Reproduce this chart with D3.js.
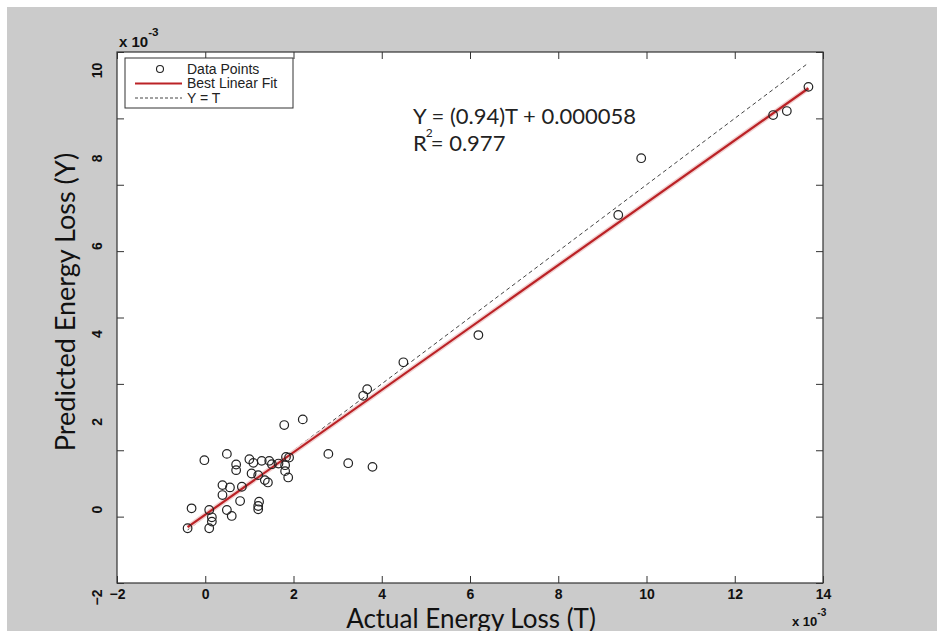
<!DOCTYPE html>
<html>
<head>
<meta charset="utf-8">
<script src="https://cdn.jsdelivr.net/npm/d3@7"></script>
<style>
  body { margin: 0; background: #fff; }
  svg { display: block; }
</style>
</head>
<body>
<div id="chart"></div>
<script>
// values are in units of 1e-3 (as on the axes)
const actualT = [
  13.67, 12.87, 13.18, 9.88, 9.36, 6.19, 4.49, 3.67, 3.58, 2.21,
  1.79, 2.79, 3.24, 3.79, -0.02, 0.49, 0.70, 0.70, 1.00, 1.09,
  1.28, 1.45, 1.51, 1.66, 1.83, 1.90, 1.81, 1.81, 1.88, 1.05,
  1.20, 1.35, 1.42, 0.39, 0.56, 0.83, 0.39, 0.79, 1.22, 1.20,
  1.20, -0.31, 0.09, 0.15, 0.49, 0.60, 0.15, 0.09, -0.40
];
const predictedY = [
  12.95, 12.10, 12.22, 10.80, 9.09, 5.47, 4.65, 3.84, 3.64, 2.93,
  2.76, 1.89, 1.61, 1.50, 1.70, 1.89, 1.57, 1.40, 1.73, 1.62,
  1.68, 1.68, 1.58, 1.60, 1.80, 1.78, 1.55, 1.37, 1.18, 1.30,
  1.25, 1.10, 1.03, 0.95, 0.88, 0.90, 0.65, 0.47, 0.45, 0.32,
  0.22, 0.25, 0.20, -0.02, 0.20, 0.02, -0.15, -0.35, -0.35
];

const fitSlope = 0.94;
const fitIntercept = 0.058;

const xTicks = [-2, 0, 2, 4, 6, 8, 10, 12, 14];
const yTickMarks = [-2, 0, 2, 4, 6, 8, 10, 12, 14];
const yTickLabels = [-2, 0, 2, 4, 6, 8, 10];

const legendItems = ["Data Points", "Best Linear Fit", "Y = T"];
const equationLines = ["Y = (0.94)T + 0.000058", "R", "2", "= 0.977"];

const width = 937, height = 631;
const plot = { left: 117, right: 823, top: 52, bottom: 583 };

const svg = d3.select("#chart").append("svg")
  .attr("width", width)
  .attr("height", height);

// figure background
svg.append("rect").attr("width", width).attr("height", height).attr("fill", "#fff");
svg.append("rect")
  .attr("x", 7).attr("y", 7)
  .attr("width", width - 7).attr("height", height - 7)
  .attr("fill", "#cbcbcb");

svg.append("rect")
  .attr("x", plot.left).attr("y", plot.top)
  .attr("width", plot.right - plot.left)
  .attr("height", plot.bottom - plot.top)
  .attr("fill", "#fff");

const x = d3.scaleLinear().domain([-2, 14]).range([plot.left, plot.right]);
const y = d3.scaleLinear().domain([-2, 14]).range([plot.bottom, plot.top]);
// the printed y labels do not follow the tick marks in the original
const yLabel = d3.scaleLinear().domain([-2, 10]).range([597, 70]);

const tickFont = "'Liberation Sans', Arial, sans-serif";

// bottom axis
const xAxisG = svg.append("g")
  .attr("transform", `translate(0,${plot.bottom})`)
  .call(d3.axisBottom(x).tickValues(xTicks).tickSizeInner(-7).tickSizeOuter(0).tickPadding(6)
    .tickFormat(d3.format("d")));
xAxisG.select(".domain").remove();
xAxisG.selectAll("text")
  .attr("font-family", tickFont).attr("font-weight", "bold")
  .attr("font-size", 14).attr("fill", "#111");

// top axis ticks
const topG = svg.append("g")
  .attr("transform", `translate(0,${plot.top})`)
  .call(d3.axisTop(x).tickValues(xTicks).tickSizeInner(-7).tickSizeOuter(0).tickFormat(""));
topG.select(".domain").remove();

// left tick marks
const leftG = svg.append("g")
  .attr("transform", `translate(${plot.left},0)`)
  .call(d3.axisLeft(y).tickValues(yTickMarks).tickSizeInner(-7).tickSizeOuter(0).tickFormat(""));
leftG.select(".domain").remove();

// right tick marks
const rightG = svg.append("g")
  .attr("transform", `translate(${plot.right},0)`)
  .call(d3.axisRight(y).tickValues(yTickMarks).tickSizeInner(-7).tickSizeOuter(0).tickFormat(""));
rightG.select(".domain").remove();

svg.selectAll(".tick line").attr("stroke", "#333").attr("stroke-width", 1);

// y labels, rotated
const yLabG = svg.append("g")
  .attr("transform", `translate(${plot.left},0)`)
  .call(d3.axisLeft(yLabel).tickValues(yTickLabels).tickSize(0).tickFormat(d3.format("d")));
yLabG.select(".domain").remove();
yLabG.selectAll(".tick line").remove();
yLabG.selectAll("text")
  .attr("x", 0).attr("dy", "0.36em")
  .attr("text-anchor", "middle")
  .attr("transform", "translate(-20,0) rotate(-90)")
  .attr("font-family", tickFont).attr("font-weight", "bold")
  .attr("font-size", 14).attr("fill", "#111");

// plot frame
svg.append("rect")
  .attr("x", plot.left).attr("y", plot.top)
  .attr("width", plot.right - plot.left)
  .attr("height", plot.bottom - plot.top)
  .attr("fill", "none").attr("stroke", "#333").attr("stroke-width", 1.2);

// exponent labels
function exponent(g, tx, ty, size) {
  const t = g.append("text")
    .attr("x", tx).attr("y", ty)
    .attr("font-family", tickFont).attr("font-weight", "bold")
    .attr("font-size", size).attr("fill", "#111");
  t.append("tspan").text("x 10");
  t.append("tspan").attr("dy", -size * 0.75).attr("font-size", size * 0.78).text("-3");
}
exponent(svg, 119, 47, 15);
exponent(svg, 792, 626, 13);

// lines
const tMin = d3.min(actualT), tMax = d3.max(actualT);

svg.append("line")
  .attr("x1", x(tMin)).attr("y1", y(tMin))
  .attr("x2", x(tMax)).attr("y2", y(tMax))
  .attr("stroke", "#444").attr("stroke-width", 1)
  .attr("stroke-dasharray", "4,3");

svg.append("line")
  .attr("x1", x(tMin)).attr("y1", y(fitSlope * tMin + fitIntercept))
  .attr("x2", x(tMax)).attr("y2", y(fitSlope * tMax + fitIntercept))
  .attr("stroke", "#f2d2d2").attr("stroke-width", 5);
svg.append("line")
  .attr("x1", x(tMin)).attr("y1", y(fitSlope * tMin + fitIntercept))
  .attr("x2", x(tMax)).attr("y2", y(fitSlope * tMax + fitIntercept))
  .attr("stroke", "#bb2226").attr("stroke-width", 2.2);

// points
svg.append("g").selectAll("circle")
  .data(actualT.map((t, i) => ({ t, y: predictedY[i] })))
  .join("circle")
  .attr("cx", d => x(d.t))
  .attr("cy", d => y(d.y))
  .attr("r", 4.3)
  .attr("fill", "none")
  .attr("stroke", "#222")
  .attr("stroke-width", 1.2);

// equation
const eqFont = "Lato, 'Open Sans', sans-serif";
svg.append("text")
  .attr("x", 413).attr("y", 124)
  .attr("font-family", eqFont).attr("font-size", 22).attr("fill", "#222")
  .text(equationLines[0]);
const r2 = svg.append("text")
  .attr("x", 413).attr("y", 151)
  .attr("font-family", eqFont).attr("font-size", 22).attr("fill", "#222");
r2.append("tspan").text(equationLines[1]);
r2.append("tspan").attr("dy", -14).attr("dx", -1).attr("font-size", 12).text(equationLines[2]);
r2.append("tspan").attr("dy", 14).attr("dx", -2).text(equationLines[3]);

// legend
const leg = svg.append("g");
leg.append("rect")
  .attr("x", 125).attr("y", 58).attr("width", 168).attr("height", 50)
  .attr("fill", "#fff").attr("stroke", "#333").attr("stroke-width", 1);
const legY = d3.scalePoint().domain(legendItems).range([69, 98]);
leg.selectAll("text")
  .data(legendItems)
  .join("text")
  .attr("x", 187)
  .attr("y", d => legY(d))
  .attr("dy", "0.35em")
  .attr("font-family", "'Liberation Sans', Arial, sans-serif")
  .attr("font-size", 14).attr("fill", "#222")
  .text(d => d);
leg.append("circle")
  .attr("cx", 160).attr("cy", legY(legendItems[0]))
  .attr("r", 3.5).attr("fill", "none").attr("stroke", "#222").attr("stroke-width", 1.1);
leg.append("line")
  .attr("x1", 135).attr("x2", 182)
  .attr("y1", legY(legendItems[1])).attr("y2", legY(legendItems[1]))
  .attr("stroke", "#bb2226").attr("stroke-width", 2.2);
leg.append("line")
  .attr("x1", 135).attr("x2", 182)
  .attr("y1", legY(legendItems[2])).attr("y2", legY(legendItems[2]))
  .attr("stroke", "#444").attr("stroke-width", 1).attr("stroke-dasharray", "3,2");

// axis titles
svg.append("text")
  .attr("x", 471).attr("y", 628)
  .attr("text-anchor", "middle")
  .attr("font-family", eqFont).attr("font-size", 26).attr("fill", "#111")
  .text("Actual Energy Loss (T)");
svg.append("text")
  .attr("transform", "translate(75,302) rotate(-90)")
  .attr("text-anchor", "middle")
  .attr("font-family", eqFont).attr("font-size", 27).attr("fill", "#111")
  .text("Predicted Energy Loss (Y)");
</script>
</body>
</html>
